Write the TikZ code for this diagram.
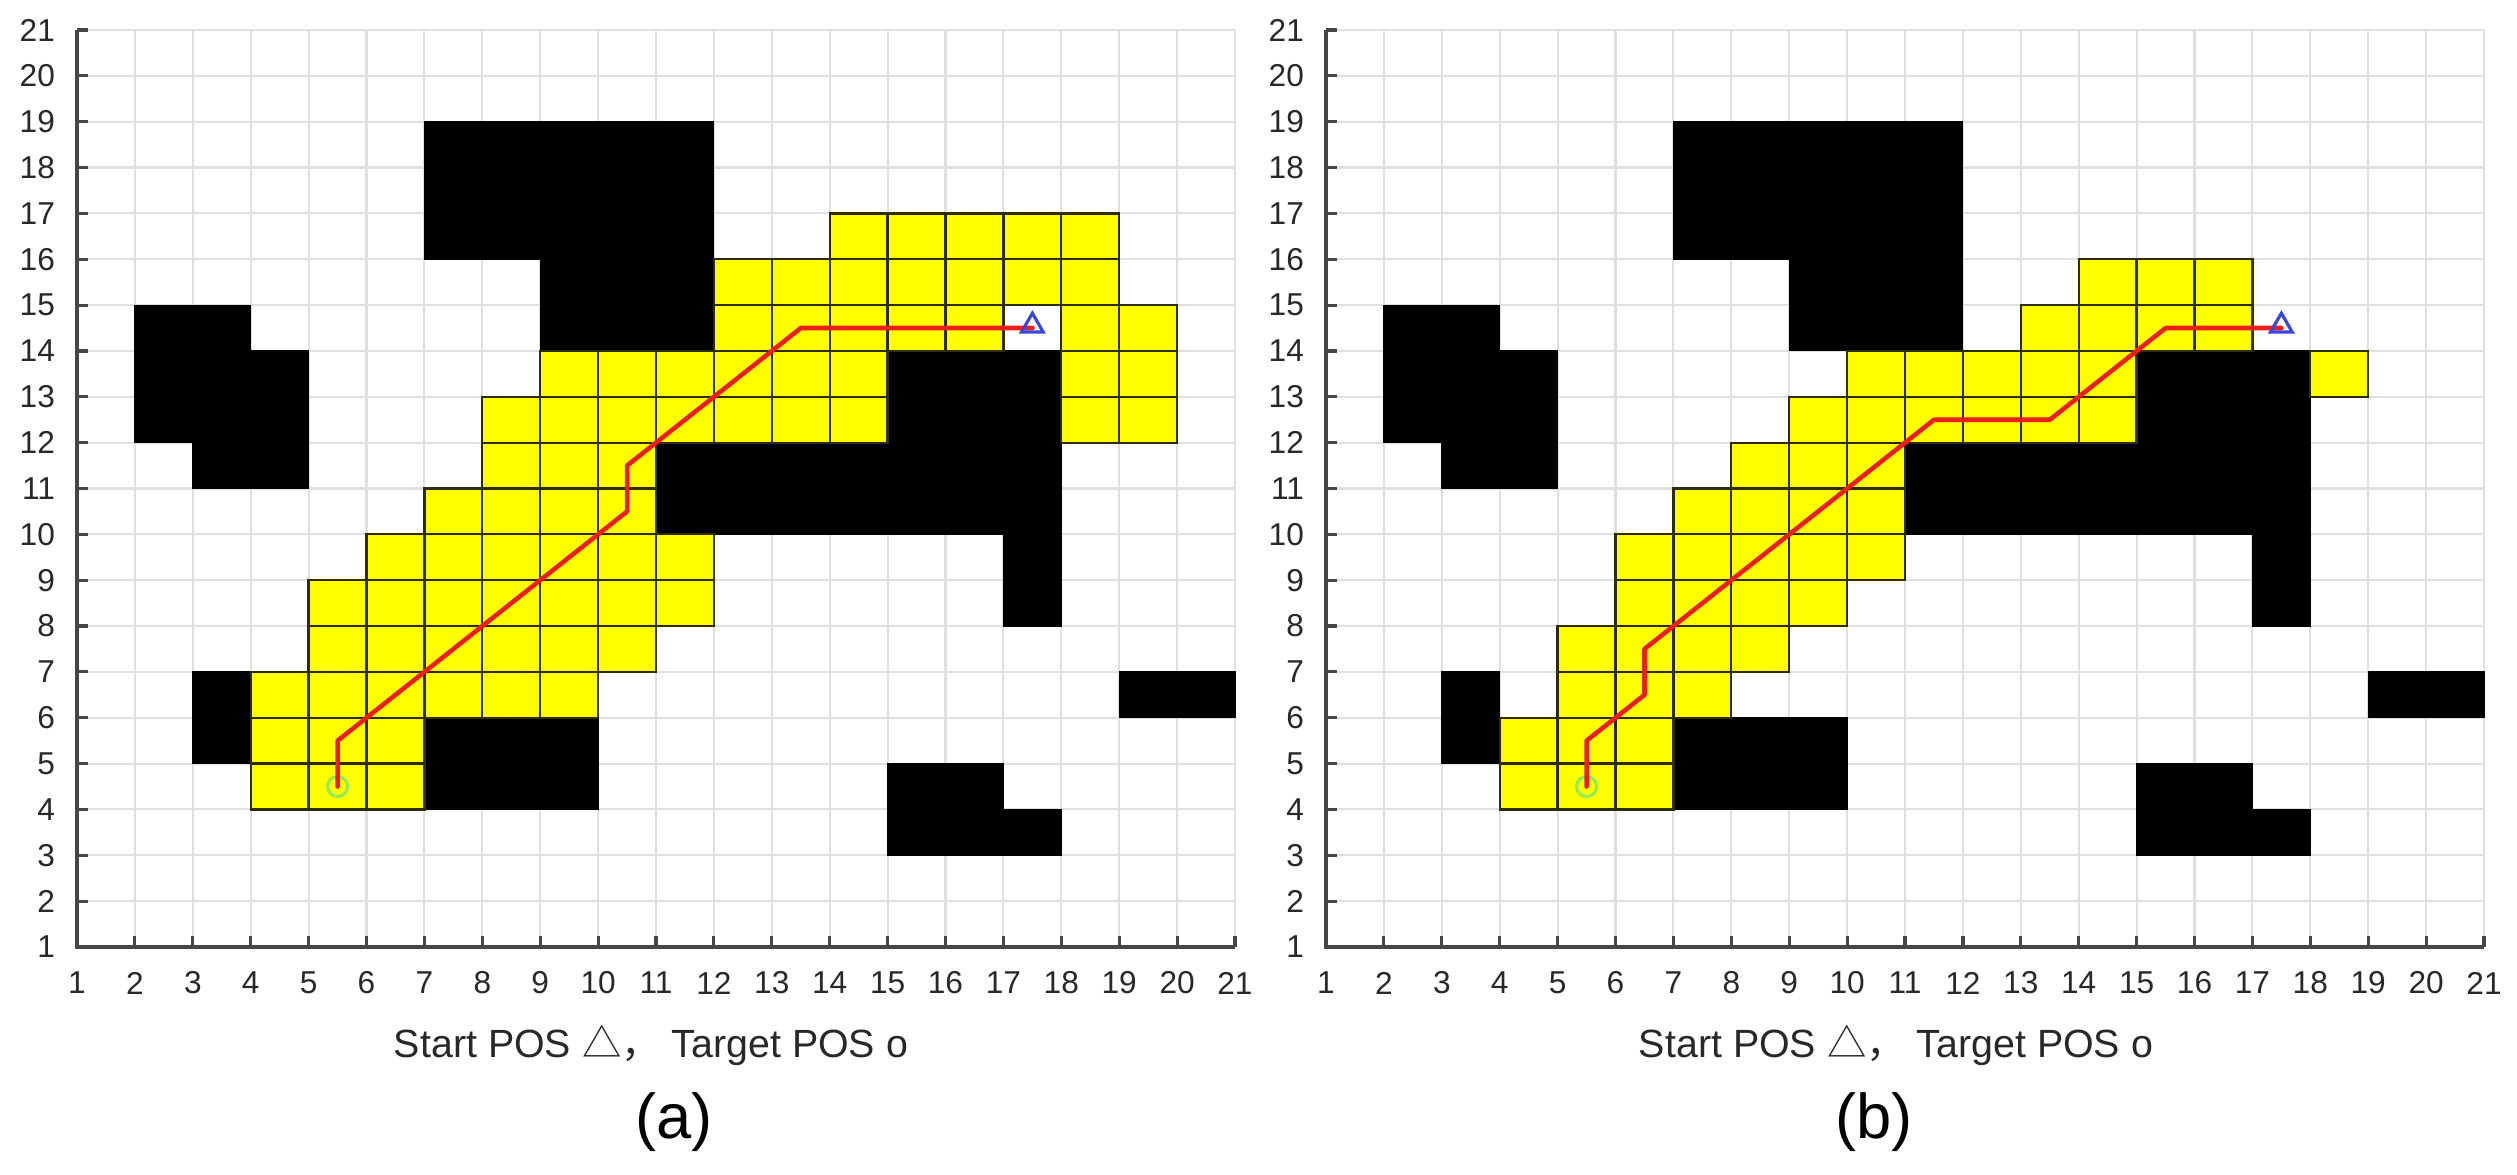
\documentclass[tikz,border=0pt]{standalone}
\usepackage{fontspec}
\setmainfont{Liberation Sans}
\newfontfamily\cjkfont{Noto Sans CJK SC}
\usetikzlibrary{shapes.geometric}
\definecolor{gridc}{RGB}{224,224,224}
\definecolor{axisc}{RGB}{70,70,70}
\definecolor{pathc}{RGB}{235,30,25}
\definecolor{cellyel}{RGB}{255,255,0}
\definecolor{celledge}{RGB}{45,45,10}
\definecolor{tgtgreen}{RGB}{150,235,80}
\definecolor{startblue}{RGB}{60,70,220}
\definecolor{labc}{RGB}{40,40,40}
\tikzset{
  gridline/.style={gridc, line width=0.6pt},
  obst/.style={fill=black, draw=black, line width=0.3pt},
  ycell/.style={fill=cellyel, draw=celledge, line width=0.65pt},
  route/.style={pathc, line width=1.3pt, line join=round, line cap=round},
  axisline/.style={axisc, line width=0.9pt},
  ticklab/.style={font=\fontsize{9}{10}\selectfont, text=labc, inner sep=0pt},
  tgtmark/.style={draw=tgtgreen, circle, minimum size=0.2cm, inner sep=0pt, line width=0.9pt},
  startmark/.style={draw=startblue, regular polygon, regular polygon sides=3, minimum size=0.25cm, inner sep=0pt, line width=0.9pt},
  xlab/.style={font=\fontsize{11.2}{13}\selectfont, text=labc, inner sep=0pt},
  sublab/.style={font=\fontsize{18}{20}\selectfont, text=black, inner sep=0pt}
}
\newcommand\drawpanel[4]{%
\begin{scope}[shift={(#1cm,1.8215cm)}, x=0.579cm, y=0.4585cm]
  \foreach \i in {2,...,21} \draw[gridline] (\i,1) -- (\i,21);
  \foreach \j in {2,...,21} \draw[gridline] (1,\j) -- (21,\j);
  % obstacles
  \fill[obst] (2,15) -- (4,15) -- (4,14) -- (5,14) -- (5,11) -- (3,11) -- (3,12) -- (2,12) -- cycle;
  \fill[obst] (7,19) -- (12,19) -- (12,14) -- (9,14) -- (9,16) -- (7,16) -- cycle;
  \fill[obst] (15,14) -- (18,14) -- (18,8) -- (17,8) -- (17,10) -- (11,10) -- (11,12) -- (15,12) -- cycle;
  \fill[obst] (3,5) rectangle (4,7);
  \fill[obst] (7,4) rectangle (10,6);
  \fill[obst] (19,6) rectangle (21,7);
  \fill[obst] (15,5) -- (17,5) -- (17,4) -- (18,4) -- (18,3) -- (15,3) -- cycle;
  % searched cells
  \foreach \yy/\aa/\bb in {#2} {
    \foreach \xx in {\aa,...,\bb} \draw[ycell] (\xx,\yy) rectangle ++(1,1);
  }
  % markers and route
  \node[tgtmark] (#4tgt) at (5.5,4.5) {};
  \coordinate (#4goal) at (17.5,14.5);
  \draw[route] (#4tgt.center) -- #3 -- (#4goal);
  \node[startmark] (#4start) at (17.5,14.55) {};
  % axes
  \draw[axisline] (1,21) -- (1,1) -- (21,1);
  \foreach \i in {1,...,21} {
    \draw[axisline] (\i,1) -- ++(0pt,3pt);
    \draw[axisline] (1,\i) -- ++(3pt,0pt);
    \node[ticklab] (#4x\i) at (\i,0.215) {\i};
    \node[ticklab, anchor=east] (#4y\i) at (0.63,\i) {\i};
  }
\end{scope}}
\begin{document}
\begin{tikzpicture}
  \fill[white] (0,0) rectangle (25.17,11.75);
  \useasboundingbox (0,0) rectangle (25.17,11.75);
  \drawpanel{0.191}{4/4/6, 5/4/6, 6/4/9, 7/5/10, 8/5/11, 9/6/11, 10/7/10, 11/8/10, 12/8/14, 12/18/19, 13/9/14, 13/18/19, 14/12/16, 14/18/19, 15/12/18, 16/14/18}{(5.5,5.5) -- (10.5,10.5) -- (10.5,11.5) -- (13.5,14.5)}{a}
  \drawpanel{12.681}{4/4/6, 5/4/6, 6/5/7, 7/5/8, 8/6/9, 9/6/10, 10/7/10, 11/8/10, 12/9/14, 13/10/14, 13/18/18, 14/13/16, 15/14/16}{(5.5,5.5) -- (6.5,6.5) -- (6.5,7.5) -- (11.5,12.5) -- (13.5,12.5) -- (15.5,14.5)}{b}
  \node[xlab] (xla) at (6.51,1.30) {Start POS {\cjkfont △，} Target POS o};
  \node[xlab] (xlb) at (18.96,1.30) {Start POS {\cjkfont △，} Target POS o};
  \node[sublab] (capa) at (6.74,0.53) {(a)};
  \node[sublab] (capb) at (18.74,0.53) {(b)};
\end{tikzpicture}
\end{document}
